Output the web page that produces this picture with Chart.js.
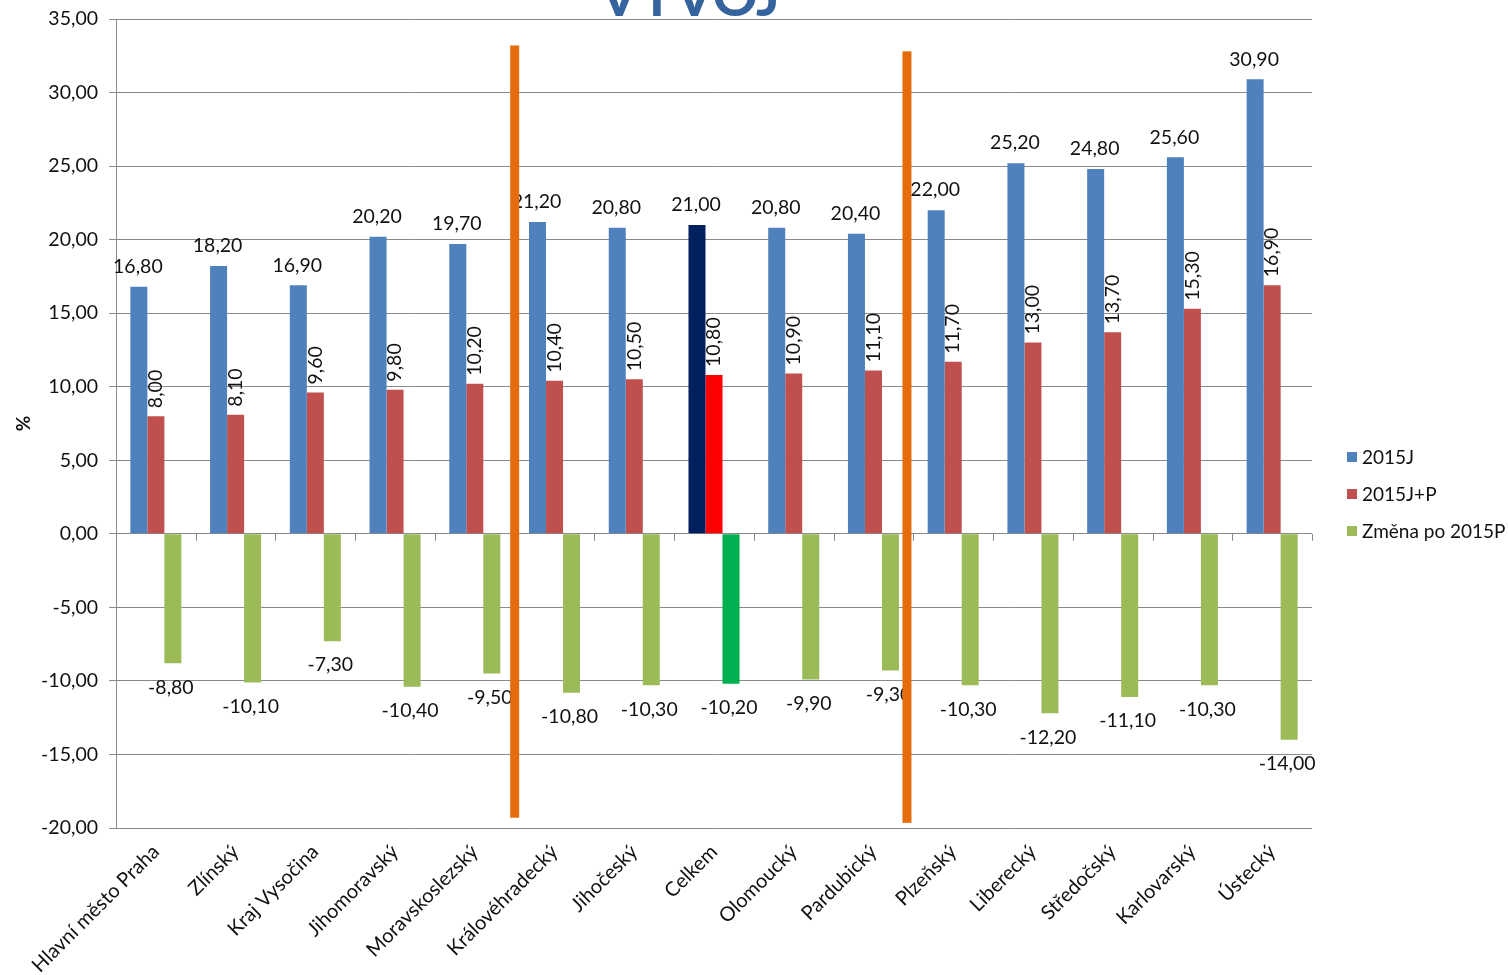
<!DOCTYPE html>
<html lang="cs">
<head>
<meta charset="utf-8">
<title>Vývoj</title>
<script src="https://cdn.jsdelivr.net/npm/chart.js@4.4.1/dist/chart.umd.min.js"></script>
<style>
  html, body { margin: 0; padding: 0; background: #fff; overflow: hidden; }
  #wrap { position: relative; width: 1508px; height: 975px; }
  #heading {
    position: absolute; left: 590px; width: 200px; top: -33px;
    text-align: center; font: bold 56px/1 Lato, sans-serif; color: #35639e;
  }
  #legend {
    position: absolute; left: 1347px; top: 438px;
    font: 19px Lato, sans-serif; color: #111;
  }
  #legend div { height: 37px; display: flex; align-items: center; }
  #legend span.box { width: 10px; height: 10px; margin-right: 5px; display: inline-block; }
</style>
</head>
<body>
<div id="wrap">
  <canvas id="vyvoj" width="1508" height="975"></canvas>
  <div id="heading">VÝVOJ</div>
  <div id="legend"></div>
</div>
<script>
// kraje, seřazené podle 2015J+P
const kraje = ['Hlavní město Praha', 'Zlínský', 'Kraj Vysočina', 'Jihomoravský', 'Moravskoslezský',
  'Královéhradecký', 'Jihočeský', 'Celkem', 'Olomoucký', 'Pardubický', 'Plzeňský', 'Liberecký',
  'Středočský', 'Karlovarský', 'Ústecký'];
const j2015 = [16.8, 18.2, 16.9, 20.2, 19.7, 21.2, 20.8, 21.0, 20.8, 20.4, 22.0, 25.2, 24.8, 25.6, 30.9];
const jp2015 = [8.0, 8.1, 9.6, 9.8, 10.2, 10.4, 10.5, 10.8, 10.9, 11.1, 11.7, 13.0, 13.7, 15.3, 16.9];
const zmena = [-8.8, -10.1, -7.3, -10.4, -9.5, -10.8, -10.3, -10.2, -9.9, -9.3, -10.3, -12.2, -11.1, -10.3, -14.0];
const seriesNames = ['2015J', '2015J+P', 'Změna po 2015P'];
const yTicks = [35, 30, 25, 20, 15, 10, 5, 0, -5, -10, -15, -20];
// hranice skupin (pozice mezi kategoriemi)
const dividers = [4.5, 9.42];

const FONT = 'Lato, sans-serif';
const baseColors = ['#4f81bd', '#c0504d', '#9bbb59'];
const totalColors = ['#002060', '#ff0000', '#00b050'];

function colorsFor(s) {
  return kraje.map(k => k === 'Celkem' ? totalColors[s] : baseColors[s]);
}

function cz(v) {
  return v.toFixed(2).replace('.', ',');
}

// popisky hodnot nad/pod sloupci
const valueLabels = {
  id: 'valueLabels',
  afterDatasetsDraw(chart) {
    const ctx = chart.ctx;
    ctx.save();
    ctx.fillStyle = '#111';
    ctx.font = '19.5px ' + FONT;
    chart.data.datasets.forEach((ds, i) => {
      chart.getDatasetMeta(i).data.forEach((bar, j) => {
        const txt = cz(ds.data[j]);
        if (i === 0) {
          ctx.textAlign = 'center';
          ctx.textBaseline = 'middle';
          ctx.fillText(txt, bar.x - 1, bar.y - 20);
        } else if (i === 1) {
          ctx.save();
          ctx.translate(bar.x, bar.y - 8);
          ctx.rotate(-Math.PI / 2);
          ctx.textAlign = 'left';
          ctx.textBaseline = 'middle';
          ctx.fillText(txt, 0, 0);
          ctx.restore();
        } else {
          ctx.textAlign = 'center';
          ctx.textBaseline = 'middle';
          ctx.fillText(txt, bar.x - 2, bar.y + 24);
        }
      });
    });
    ctx.restore();
  }
};

// značky na nulové ose a oranžové předěly
const extras = {
  id: 'extras',
  beforeDatasetsDraw(chart) {
    const {ctx, scales: {x, y}} = chart;
    const y0 = y.getPixelForValue(0);
    ctx.save();
    ctx.strokeStyle = '#8a8a8a';
    ctx.lineWidth = 1;
    ctx.beginPath();
    for (let i = 0; i <= kraje.length; i++) {
      const px = Math.round(x.getPixelForValue(i - 0.5)) + 0.5;
      ctx.moveTo(px, y0);
      ctx.lineTo(px, y0 + 7);
    }
    ctx.stroke();
    ctx.restore();
  },
  afterDraw(chart) {
    const {ctx, scales: {x, y}} = chart;
    const spans = [[33.2, -19.3], [32.8, -19.65]];
    ctx.save();
    ctx.fillStyle = '#e46c0a';
    dividers.forEach((d, k) => {
      const px = x.getPixelForValue(d);
      const top = y.getPixelForValue(spans[k][0]);
      const bottom = y.getPixelForValue(spans[k][1]);
      ctx.fillRect(px - 4.5, top, 9, bottom - top);
    });
    ctx.restore();
  }
};

const ctx = document.getElementById('vyvoj').getContext('2d');
const chart = new Chart(ctx, {
  type: 'bar',
  data: {
    labels: kraje,
    datasets: [j2015, jp2015, zmena].map((d, s) => ({
      label: seriesNames[s],
      data: d,
      backgroundColor: colorsFor(s),
      borderWidth: 0,
      categoryPercentage: 0.64,
      barPercentage: 1.0
    }))
  },
  options: {
    responsive: false,
    animation: false,
    layout: { padding: { top: 19, right: 196, left: 0, bottom: 0 } },
    plugins: {
      legend: { display: false },
      tooltip: { enabled: false }
    },
    scales: {
      x: {
        grid: { display: false, drawTicks: false },
        border: { display: false },
        ticks: {
          autoSkip: false,
          minRotation: 45,
          maxRotation: 45,
          padding: 12,
          color: '#111',
          font: { family: FONT, size: 20 }
        },
        afterFit(scale) { scale.height = 147; }
      },
      y: {
        min: -20,
        max: 35,
        afterBuildTicks(scale) { scale.ticks = yTicks.map(v => ({ value: v })); },
        grid: { color: '#8a8a8a', lineWidth: 1, tickLength: 7 },
        border: { color: '#8a8a8a' },
        ticks: {
          padding: 11,
          color: '#111',
          font: { family: FONT, size: 19.5 },
          callback: v => cz(v)
        },
        title: {
          display: true,
          text: '%',
          color: '#111',
          font: { family: FONT, size: 19, weight: 'bold' },
          padding: { top: 12, bottom: 0 }
        },
        afterFit(scale) {
          scale.width = 116;
          scale.paddingTop = 0;
          scale.paddingBottom = 0;
        }
      }
    }
  },
  plugins: [valueLabels, extras]
});

// legenda vpravo
const legend = document.getElementById('legend');
seriesNames.forEach((name, s) => {
  const row = document.createElement('div');
  const box = document.createElement('span');
  box.className = 'box';
  box.style.background = baseColors[s];
  row.appendChild(box);
  row.appendChild(document.createTextNode(name));
  legend.appendChild(row);
});
</script>
</body>
</html>
